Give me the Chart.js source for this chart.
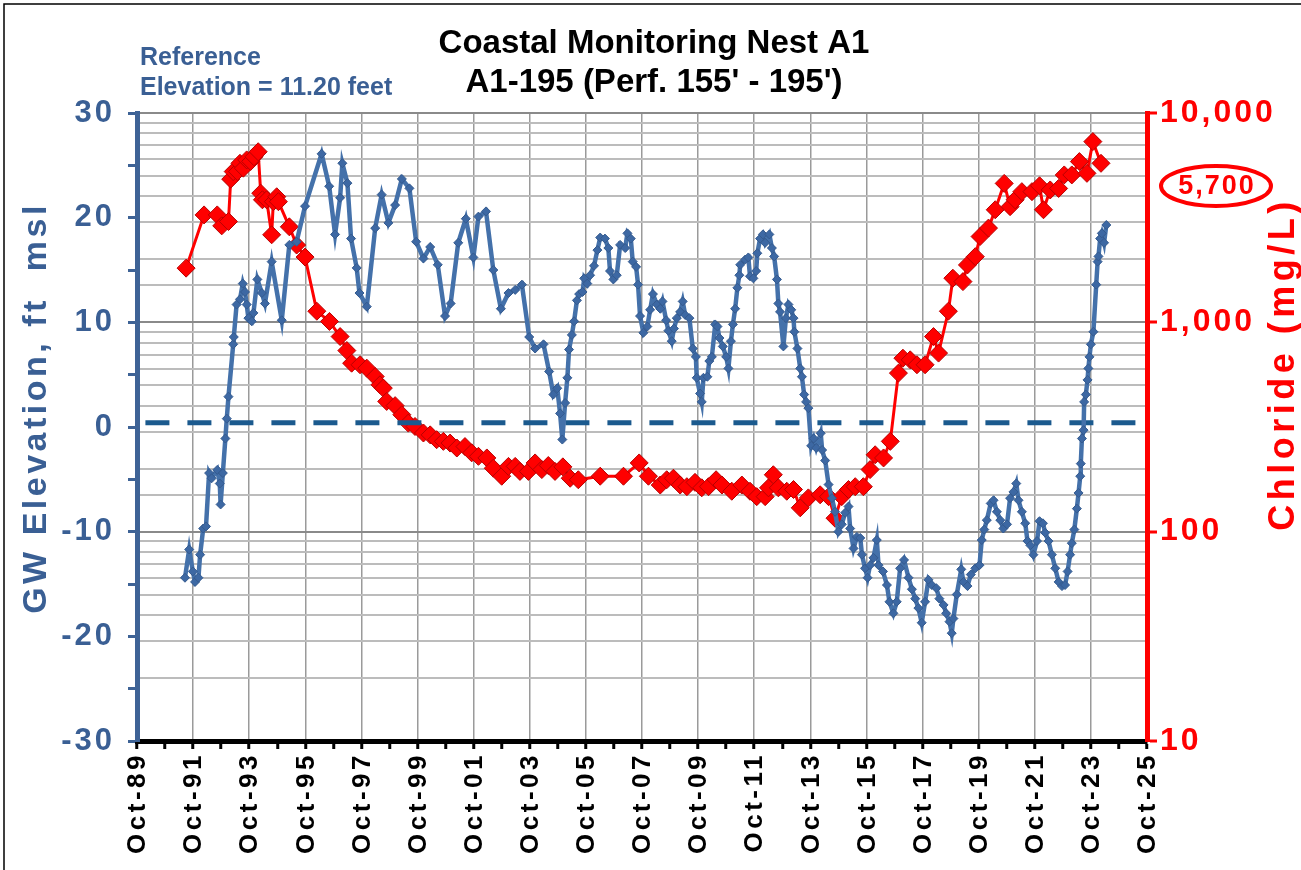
<!DOCTYPE html>
<html>
<head>
<meta charset="utf-8">
<script src="https://cdn.jsdelivr.net/npm/chart.js@4.4.1/dist/chart.umd.min.js"></script>
<style>
  html, body { margin: 0; padding: 0; background: #fff; }
  #wrap { width: 1301px; height: 870px; position: relative; }
</style>
</head>
<body>
<div id="wrap"><canvas id="chart" width="1301" height="870"></canvas></div>
<script>
// ---- data (decimal years) ----
const gwDates = [
  1991.46, 1991.61, 1991.74, 1991.82, 1991.94, 1992.00, 1992.11, 1992.21, 1992.32, 1992.41,
  1992.61, 1992.70, 1992.73, 1992.81, 1992.90, 1992.95, 1993.01, 1993.18, 1993.20, 1993.30,
  1993.42, 1993.52, 1993.60, 1993.66, 1993.72, 1993.84, 1993.90, 1994.04, 1994.20, 1994.31,
  1994.55, 1994.91, 1995.18, 1995.44, 1995.74, 1996.33, 1996.60, 1996.81, 1996.99, 1997.07,
  1997.25, 1997.38, 1997.58, 1997.68, 1997.94, 1998.24, 1998.47, 1998.71, 1998.95, 1999.19,
  1999.46, 1999.70, 1999.96, 2000.20, 2000.47, 2000.73, 2000.93, 2001.20, 2001.47, 2001.74,
  2001.92, 2002.19, 2002.45, 2002.72, 2002.99, 2003.23, 2003.47, 2003.73, 2003.94, 2004.24,
  2004.44, 2004.59, 2004.73, 2004.83, 2004.91, 2005.01, 2005.09, 2005.15, 2005.25, 2005.33,
  2005.43, 2005.51, 2005.63, 2005.69, 2005.80, 2005.90, 2006.04, 2006.16, 2006.26, 2006.43,
  2006.55, 2006.61, 2006.73, 2006.85, 2006.97, 2007.15, 2007.23, 2007.35, 2007.42, 2007.54,
  2007.61, 2007.68, 2007.80, 2007.94, 2008.04, 2008.14, 2008.28, 2008.40, 2008.48, 2008.61,
  2008.69, 2008.81, 2008.89, 2008.99, 2009.11, 2009.20, 2009.29, 2009.44, 2009.56, 2009.67,
  2009.70, 2009.82, 2009.88, 2009.94, 2010.08, 2010.15, 2010.24, 2010.36, 2010.44, 2010.51,
  2010.63, 2010.75, 2010.83, 2010.92, 2010.99, 2011.07, 2011.15, 2011.22, 2011.25, 2011.43,
  2011.54, 2011.60, 2011.72, 2011.82, 2011.86, 2011.96, 2012.06, 2012.14, 2012.29, 2012.38,
  2012.46, 2012.56, 2012.61, 2012.67, 2012.79, 2012.88, 2012.97, 2013.07, 2013.15, 2013.18,
  2013.29, 2013.39, 2013.45, 2013.53, 2013.60, 2013.68, 2013.78, 2013.87, 2013.96, 2014.12,
  2014.17, 2014.28, 2014.40, 2014.52, 2014.63, 2014.75, 2014.87, 2014.99, 2015.11, 2015.17,
  2015.29, 2015.41, 2015.53, 2015.59, 2015.70, 2015.79, 2015.88, 2016.00, 2016.12, 2016.18,
  2016.34, 2016.48, 2016.57, 2016.71, 2016.83, 2016.95, 2017.09, 2017.25, 2017.37, 2017.49,
  2017.60, 2017.72, 2017.84, 2017.96, 2018.08, 2018.24, 2018.35, 2018.50, 2018.59, 2018.71,
  2018.79, 2018.85, 2018.97, 2019.13, 2019.21, 2019.35, 2019.47, 2019.63, 2019.78, 2019.86,
  2019.95, 2020.04, 2020.18, 2020.28, 2020.40, 2020.52, 2020.63, 2020.76, 2020.87, 2020.99,
  2021.09, 2021.17, 2021.29, 2021.41, 2021.49, 2021.59, 2021.70, 2021.83, 2021.92, 2022.04,
  2022.12, 2022.24, 2022.36, 2022.48, 2022.60, 2022.72, 2022.83, 2022.92, 2023.01, 2023.07,
  2023.16, 2023.25, 2023.31, 2023.37, 2023.39, 2023.43, 2023.49, 2023.51, 2023.57, 2023.63,
  2023.66, 2023.70, 2023.75, 2023.84, 2023.94, 2023.99, 2024.02, 2024.08, 2024.14, 2024.22,
  2024.30
];
const gwElev = [
  -14.4, -11.7, -13.8, -14.8, -14.4, -12.2, -9.7, -9.5, -4.4, -4.9,
  -4.1, -5.4, -7.4, -4.4, -1.1, 0.8, 2.9, 7.9, 8.6, 11.7,
  12.2, 13.7, 12.9, 11.7, 10.4, 10.1, 10.9, 14.1, 12.8, 11.8,
  15.8, 10.2, 17.4, 17.7, 21.1, 26.1, 23.0, 18.4, 21.9, 25.2,
  23.3, 18.0, 15.2, 12.8, 11.5, 19.0, 22.2, 19.5, 21.2, 23.7,
  22.8, 17.7, 16.1, 17.2, 15.5, 10.6, 11.8, 17.6, 19.9, 16.2,
  20.1, 20.6, 15.0, 11.3, 12.8, 13.1, 13.6, 8.6, 7.5, 7.9,
  5.3, 3.1, 3.7, 1.3, -1.2, 2.3, 4.7, 7.4, 8.8, 10.1,
  12.1, 12.7, 12.9, 14.2, 13.7, 14.5, 15.4, 16.9, 18.1, 18.0,
  17.1, 14.9, 14.1, 14.5, 17.4, 17.1, 18.5, 18.0, 15.8, 15.3,
  13.6, 10.6, 9.0, 9.6, 11.2, 12.7, 11.7, 11.3, 12.0, 10.2,
  9.2, 8.2, 9.4, 10.4, 11.0, 12.0, 10.7, 10.4, 7.5, 6.7,
  4.7, 3.2, 2.4, 4.7, 4.8, 6.3, 6.7, 9.8, 9.6, 8.5,
  7.7, 6.7, 5.6, 8.2, 9.8, 11.3, 13.3, 14.5, 15.5, 16.0,
  16.2, 14.4, 14.2, 14.9, 16.6, 18.0, 18.4, 17.6, 18.4, 17.1,
  16.3, 14.1, 11.8, 11.0, 7.7, 10.4, 11.7, 11.2, 10.4, 9.1,
  7.5, 5.6, 4.8, 3.1, 2.4, 1.8, -1.8, -1.1, -2.0, -0.6,
  -2.2, -3.2, -5.5, -6.8, -8.1, -10.0, -9.3, -8.2, -7.6, -9.7,
  -11.6, -10.5, -10.6, -12.2, -13.5, -14.4, -13.2, -12.5, -10.8, -13.2,
  -13.8, -15.1, -16.7, -17.8, -16.7, -13.5, -12.7, -14.4, -15.5, -16.4,
  -17.3, -18.7, -16.7, -14.6, -15.1, -15.4, -16.4, -17.0, -17.8, -18.6,
  -19.7, -18.3, -16.0, -13.6, -14.8, -15.2, -14.1, -13.5, -13.2, -10.8,
  -9.8, -8.9, -7.3, -7.0, -8.1, -8.9, -9.7, -9.3, -6.8, -6.2,
  -5.4, -7.0, -8.1, -9.2, -10.9, -11.3, -12.2, -10.9, -9.0, -9.2,
  -10.1, -10.9, -12.2, -13.5, -14.8, -15.2, -15.1, -13.8, -12.2, -11.1,
  -9.8, -7.8, -6.3, -4.7, -3.5, -1.1, -0.3, 2.4, 3.1, 4.5,
  5.6, 6.7, 7.9, 9.1, 13.6, 15.8, 16.3, 18.0, 18.5, 17.6,
  19.3
];

const clDates = [
  1991.50, 1992.14, 1992.61, 1992.77, 1993.01, 1993.09, 1993.18, 1993.33, 1993.42, 1993.54,
  1993.66, 1993.80, 1993.92, 1994.07, 1994.16, 1994.22, 1994.37, 1994.55, 1994.61, 1994.73,
  1994.79, 1995.18, 1995.44, 1995.74, 1996.16, 1996.61, 1996.99, 1997.23, 1997.40, 1997.70,
  1997.94, 1998.24, 1998.41, 1998.53, 1998.65, 1998.95, 1999.19, 1999.42, 1999.66, 1999.96,
  2000.20, 2000.43, 2000.67, 2000.91, 2001.15, 2001.44, 2001.68, 2001.92, 2002.22, 2002.45,
  2002.75, 2002.99, 2003.23, 2003.40, 2003.70, 2003.94, 2004.18, 2004.41, 2004.65, 2004.93,
  2005.19, 2005.48, 2006.26, 2007.09, 2007.65, 2007.98, 2008.40, 2008.63, 2008.87, 2009.11,
  2009.35, 2009.64, 2009.88, 2010.12, 2010.39, 2010.60, 2010.95, 2011.31, 2011.60, 2011.84,
  2012.14, 2012.26, 2012.43, 2012.61, 2012.91, 2013.15, 2013.39, 2013.68, 2014.10, 2014.40,
  2014.63, 2014.87, 2015.11, 2015.35, 2015.64, 2015.88, 2016.06, 2016.36, 2016.60, 2016.89,
  2017.05, 2017.31, 2017.55, 2017.84, 2018.14, 2018.32, 2018.67, 2018.83, 2019.19, 2019.35,
  2019.63, 2019.80, 2020.10, 2020.34, 2020.66, 2020.87, 2021.05, 2021.29, 2021.65, 2021.92,
  2022.06, 2022.30, 2022.60, 2022.80, 2023.07, 2023.34, 2023.61, 2023.82, 2024.11
];
const clValues = [
  1815, 3260, 3260, 2890, 3030, 4830, 5250, 5250, 5750, 5450,
  5970, 5870, 6180, 6530, 4140, 3850, 3850, 2620, 3770, 3980,
  3770, 2860, 2340, 2050, 1130, 1010, 855, 733, 638, 627,
  604, 551, 503, 485, 419, 400, 362, 330, 318, 296,
  290, 275, 270, 265, 251, 255, 238, 229, 225, 201,
  184, 205, 205, 194, 194, 213, 198, 207, 194, 204,
  180, 177, 184, 184, 213, 184, 167, 177, 180, 167,
  164, 172, 162, 164, 177, 167, 156, 167, 156, 147,
  147, 162, 187, 162, 156, 159, 130, 145, 150, 147,
  116, 147, 159, 164, 164, 198, 233, 225, 270, 572,
  674, 662, 627, 627, 855, 713, 1130, 1625, 1565, 1880,
  2060, 2570, 2820, 3450, 4610, 3570, 3850, 4210, 4210, 4490,
  3450, 4290, 4360, 5060, 5060, 5860, 5150, 7300, 5750
];

const xTickLabels = ['Oct-89', 'Oct-91', 'Oct-93', 'Oct-95', 'Oct-97', 'Oct-99', 'Oct-01',
  'Oct-03', 'Oct-05', 'Oct-07', 'Oct-09', 'Oct-11', 'Oct-13', 'Oct-15', 'Oct-17', 'Oct-19',
  'Oct-21', 'Oct-23', 'Oct-25'];
const xStart = 1989.75;          // Oct-89
const xEnd = 2025.75;            // Oct-25
const refLevel = 0.4;            // dashed reference line, ft msl
const refSpan = [1990.05, 2025.5];
const latestChloride = '5,700';

const BLUE = '#4471AA';
const BLUE_DARK = '#3A5F94';
const RED = '#FF0000';
const FONT = '"Liberation Sans", Arial, sans-serif';

const gwPoints = gwDates.map((d, i) => ({ x: d, y: gwElev[i] }));
const clPoints = clDates.map((d, i) => ({ x: d, y: clValues[i] }));
const refPoints = refSpan.map(d => ({ x: d, y: refLevel }));

const yearTicks = [];
for (let v = xStart; v <= xEnd + 0.001; v += 1) yearTicks.push({ value: v });
const isEven = v => Math.abs(((v - xStart) % 2)) < 0.01;
const isDecade = v => Math.abs(Math.log10(v) - Math.round(Math.log10(v))) < 1e-6;

/** Повёрнутый текст с разрядкой */
function rotatedText(ctx, text, x, y, spacing) {
  ctx.save();
  ctx.translate(x, y);
  ctx.rotate(-Math.PI / 2);
  ctx.letterSpacing = spacing;
  ctx.fillText(text, 0, 0);
  ctx.restore();
}

/** Тексты поверх графика: заголовки, подписи осей, овал с последним значением */
const overlay = {
  id: 'overlay',
  beforeDraw(chart) {
    chart.ctx.letterSpacing = '3px';
  },
  beforeDatasetsDraw(chart) {
    chart.ctx.letterSpacing = '0px';
  },
  afterDraw(chart) {
    const ctx = chart.ctx;
    const xs = chart.scales.x;
    ctx.save();

    // frame
    ctx.strokeStyle = '#000';
    ctx.lineWidth = 1.5;
    ctx.beginPath();
    ctx.moveTo(4, 870); ctx.lineTo(4, 4); ctx.lineTo(1301, 4);
    ctx.stroke();

    // title
    ctx.fillStyle = '#000';
    ctx.textAlign = 'center';
    ctx.textBaseline = 'alphabetic';
    ctx.font = 'bold 33px ' + FONT;
    ctx.fillText('Coastal Monitoring Nest A1', 654, 53);
    ctx.fillText("A1-195 (Perf. 155' - 195')", 654, 92);

    // reference elevation note
    ctx.fillStyle = BLUE_DARK;
    ctx.textAlign = 'left';
    ctx.font = 'bold 25px ' + FONT;
    ctx.fillText('Reference', 140, 65);
    ctx.fillText('Elevation = 11.20 feet', 140, 95);

    // x labels (rotated, spaced)
    ctx.fillStyle = '#000';
    ctx.font = 'bold 26px ' + FONT;
    ctx.textAlign = 'right';
    ctx.textBaseline = 'middle';
    xTickLabels.forEach((lab, i) => {
      const px = xs.getPixelForValue(xStart + 2 * i);
      rotatedText(ctx, lab, px + 1, 752, '3.5px');
    });

    // axis titles
    ctx.textAlign = 'center';
    ctx.font = 'bold 34px ' + FONT;
    ctx.fillStyle = BLUE_DARK;
    rotatedText(ctx, 'GW Elevation, ft  msl', 37, 408, '3.5px');
    ctx.font = 'bold 36px ' + FONT;
    ctx.fillStyle = RED;
    rotatedText(ctx, 'Chloride (mg/L)', 1284, 364, '4.5px');

    // latest chloride callout
    ctx.strokeStyle = RED;
    ctx.lineWidth = 4;
    ctx.beginPath();
    ctx.ellipse(1216, 186, 55, 20, 0, 0, Math.PI * 2);
    ctx.stroke();
    ctx.fillStyle = RED;
    ctx.font = 'bold 27px ' + FONT;
    ctx.letterSpacing = '2px';
    ctx.fillText(latestChloride, 1217, 187);
    ctx.letterSpacing = '0px';

    ctx.restore();
  }
};

new Chart(document.getElementById('chart'), {
  type: 'line',
  data: {
    datasets: [
      {
        label: 'GW Elevation',
        data: gwPoints,
        yAxisID: 'y',
        borderColor: BLUE,
        borderWidth: 4.5,
        pointStyle: 'rectRot',
        pointRadius: 4.5,
        pointBackgroundColor: '#3D68A3',
        pointBorderColor: '#345A8E',
        pointBorderWidth: 1,
        tension: 0
      },
      {
        label: 'Reference',
        data: refPoints,
        yAxisID: 'y',
        borderColor: '#1B5A8E',
        borderWidth: 5,
        borderDash: [24, 18],
        pointRadius: 0
      },
      {
        label: 'Chloride',
        data: clPoints,
        yAxisID: 'y1',
        borderColor: RED,
        borderWidth: 3,
        pointStyle: 'rectRot',
        pointRadius: 9,
        pointBackgroundColor: RED,
        pointBorderColor: '#B80000',
        pointBorderWidth: 1,
        tension: 0
      }
    ]
  },
  options: {
    responsive: false,
    animation: false,
    layout: { padding: { top: 113, left: 0, right: 0, bottom: 0 } },
    plugins: { legend: { display: false }, tooltip: { enabled: false } },
    scales: {
      x: {
        type: 'linear',
        min: xStart,
        max: xEnd,
        afterBuildTicks: axis => { axis.ticks = yearTicks.map(t => ({ value: t.value })); },
        afterFit: s => { s.height = 129; },
        ticks: { display: false },
        border: { color: '#000', width: 5 },
        grid: {
          color: c => (c.tick && isEven(c.tick.value) ? '#9a9a9a' : 'rgba(0,0,0,0)'),
          lineWidth: 1.5,
          tickColor: '#000',
          tickLength: 8,
          tickWidth: 3
        }
      },
      y: {
        position: 'left',
        min: -30,
        max: 30,
        afterFit: s => { s.width = 137; },
        ticks: {
          stepSize: 5,
          autoSkip: false,
          padding: 13,
          color: BLUE_DARK,
          font: { family: FONT, size: 31, weight: 'bold' },
          callback: v => (v % 10 === 0 ? String(v) : '')
        },
        border: { color: '#3E6396', width: 5 },
        grid: {
          drawOnChartArea: false,
          tickColor: '#3E6396',
          tickLength: 9,
          tickWidth: 3
        }
      },
      y1: {
        type: 'logarithmic',
        position: 'right',
        min: 10,
        max: 10000,
        afterFit: s => { s.width = 154; },
        ticks: {
          autoSkip: false,
          padding: 3,
          color: RED,
          font: { family: FONT, size: 32, weight: 'bold' },
          callback: v => (isDecade(v) ? Number(v).toLocaleString('en-US') : '')
        },
        border: { color: RED, width: 5 },
        grid: {
          color: c => (c.tick && isDecade(c.tick.value) ? '#8a8a8a' : '#bcbcbc'),
          lineWidth: 2,
          tickColor: c => (c.tick && isDecade(c.tick.value) ? RED : 'rgba(0,0,0,0)'),
          tickLength: 10,
          tickWidth: 3
        }
      }
    }
  },
  plugins: [overlay]
});
</script>
</body>
</html>
